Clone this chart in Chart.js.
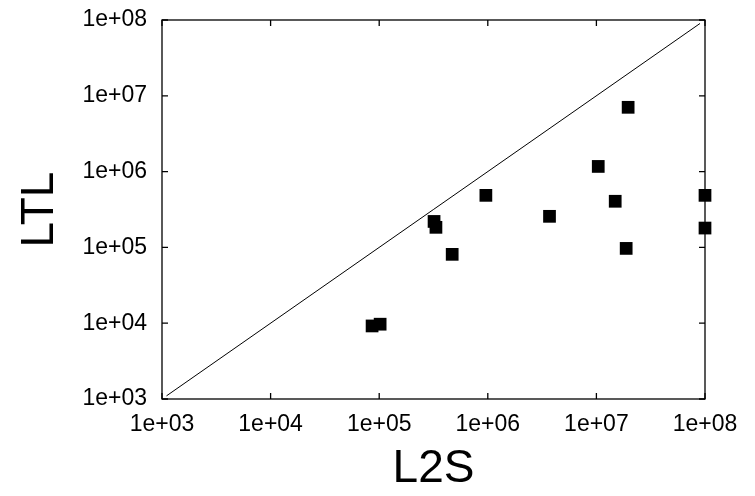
<!DOCTYPE html>
<html lang="en">
<head>
    <meta charset="UTF-8">
    <title>LTL vs L2S</title>
    <script src="https://cdn.jsdelivr.net/npm/chart.js"></script>
    <style>
        html, body { margin: 0; padding: 0; background: #fff; }
        canvas { display: block; }
    </style>
</head>
<body>
    <canvas id="grafico" width="755" height="496"></canvas>

    <script>
        // valores (eixo x = L2S, eixo y = LTL)
        const l2sValores = [8.6e4, 1.02e5, 3.2e5, 3.33e5, 4.7e5, 9.6e5, 3.7e6, 1.04e7, 1.49e7, 1.96e7, 1.88e7, 1e8, 1e8];
        const ltlValores = [9.2e3, 9.7e3, 2.2e5, 1.84e5, 8.1e4, 4.86e5, 2.57e5, 1.17e6, 4.06e5, 7.05e6, 9.7e4, 4.86e5, 1.8e5];
        const diagonal = [1.1e3, 9e7];
        const marcas = [1e3, 1e4, 1e5, 1e6, 1e7, 1e8];

        const fonte = "'Liberation Sans', Arial, Helvetica, sans-serif";

        function formatar(v) {
            const e = Math.round(Math.log10(v));
            return '1e+' + String(e).padStart(2, '0');
        }

        // moldura com marcas para dentro, nos quatro lados
        const moldura = {
            id: 'moldura',
            beforeDatasetsDraw(chart) {
                const { ctx, chartArea: a, scales } = chart;
                const t = 6;
                ctx.save();
                ctx.strokeStyle = '#000';
                ctx.lineWidth = 1.3;
                ctx.strokeRect(a.left, a.top, a.right - a.left, a.bottom - a.top);
                ctx.beginPath();
                marcas.forEach(v => {
                    const px = scales.x.getPixelForValue(v);
                    const py = scales.y.getPixelForValue(v);
                    ctx.moveTo(px, a.bottom); ctx.lineTo(px, a.bottom - t);
                    ctx.moveTo(px, a.top); ctx.lineTo(px, a.top + t);
                    ctx.moveTo(a.left, py); ctx.lineTo(a.left + t, py);
                    ctx.moveTo(a.right, py); ctx.lineTo(a.right - t, py);
                });
                ctx.stroke();
                ctx.restore();
            }
        };

        const pontos = l2sValores.map((x, i) => ({ x: x, y: ltlValores[i] }));
        const linha = diagonal.map(v => ({ x: v, y: v }));

        new Chart(document.getElementById('grafico'), {
            type: 'scatter',
            data: {
                datasets: [
                    {
                        label: 'L2S x LTL',
                        data: pontos,
                        pointStyle: 'rect',
                        pointRadius: 9,
                        pointHoverRadius: 9,
                        backgroundColor: '#000',
                        borderWidth: 0,
                        clip: false
                    },
                    {
                        label: 'y = x',
                        data: linha,
                        showLine: true,
                        borderColor: '#000',
                        borderWidth: 1,
                        pointRadius: 0,
                        fill: false
                    }
                ]
            },
            options: {
                responsive: false,
                animation: false,
                events: [],
                layout: { padding: { left: 0, top: 20, right: 50, bottom: 0 } },
                plugins: { legend: { display: false }, tooltip: { enabled: false } },
                scales: {
                    x: {
                        type: 'logarithmic',
                        min: 1e3,
                        max: 1e8,
                        grid: { display: false, drawTicks: false },
                        border: { display: false },
                        afterBuildTicks: s => { s.ticks = marcas.map(v => ({ value: v })); },
                        afterFit: s => { s.height = 97; s.paddingLeft = 0; s.paddingRight = 0; },
                        ticks: {
                            color: '#000',
                            padding: 12,
                            maxRotation: 0,
                            autoSkip: false,
                            font: { family: fonte, size: 23 },
                            callback: v => formatar(v)
                        },
                        title: {
                            display: true,
                            text: 'L2S',
                            color: '#000',
                            font: { family: fonte, size: 46, lineHeight: 1 },
                            padding: { bottom: 4 }
                        }
                    },
                    y: {
                        type: 'logarithmic',
                        min: 1e3,
                        max: 1e8,
                        grid: { display: false, drawTicks: false },
                        border: { display: false },
                        afterBuildTicks: s => { s.ticks = marcas.map(v => ({ value: v })); },
                        afterFit: s => { s.width = 162; s.paddingTop = 0; s.paddingBottom = 0; },
                        ticks: {
                            color: '#000',
                            padding: 15,
                            autoSkip: false,
                            font: { family: fonte, size: 23 },
                            callback: v => formatar(v)
                        },
                        title: {
                            display: true,
                            text: 'LTL',
                            color: '#000',
                            font: { family: fonte, size: 46, lineHeight: 1 },
                            padding: { top: 17 }
                        }
                    }
                }
            },
            plugins: [moldura]
        });
    </script>
</body>
</html>
